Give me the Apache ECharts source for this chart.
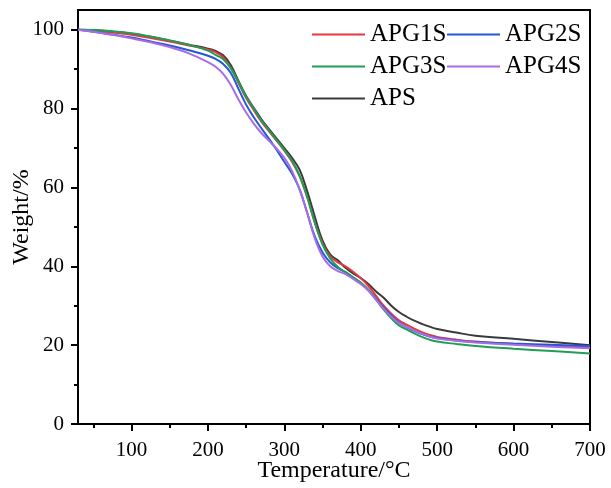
<!DOCTYPE html>
<html>
<head>
<meta charset="utf-8">
<script src="https://cdn.jsdelivr.net/npm/echarts@6/dist/echarts.min.js"></script>
<style>html,body{margin:0;padding:0;background:#fff;}#c{width:611px;height:488px;}</style>
</head>
<body>
<div id="c"></div>
<script>
var temps = [30,50,75,100,125,150,175,200,210,220,230,240,250,260,270,280,290,300,310,320,330,340,350,360,370,380,390,400,410,420,430,440,450,460,470,480,490,500,525,550,600,650,700];
var apg1s = [100,99.8,99.3,98.7,97.9,97.0,96.0,95.0,94.3,93.0,90.3,86.5,82.7,79.6,76.7,74.2,71.8,69.3,66.5,62.8,57.5,51.0,45.8,42.5,41.0,40.0,38.6,37.0,35.0,32.5,30.0,28.0,26.3,25.2,24.2,23.3,22.6,22.1,21.4,20.9,20.3,19.8,19.4];
var apg2s = [100,99.5,98.8,98.0,97.0,96.0,94.8,93.4,92.6,91.3,89.0,85.0,81.0,77.8,75.0,72.3,69.5,66.5,63.5,59.5,53.5,47.5,43.5,41.0,39.5,38.5,37.2,35.8,34.0,31.8,29.5,27.5,25.8,24.6,23.6,22.8,22.2,21.8,21.2,20.8,20.4,20.1,19.8];
var apg3s = [100,99.9,99.6,99.1,98.3,97.3,96.2,94.7,93.6,92.5,90.2,86.8,83.0,80.0,77.0,74.5,72.0,69.5,66.8,63.0,57.5,51.0,45.5,42.0,39.8,38.5,37.2,35.8,34.0,31.6,29.0,26.8,25.0,24.0,23.0,22.1,21.4,20.9,20.3,19.8,19.1,18.5,17.9];
var apg4s = [100,99.5,98.7,97.8,96.8,95.6,94.0,91.8,90.6,88.8,86.0,82.3,79.0,76.2,73.8,71.8,69.8,67.5,64.2,59.5,53.5,47.0,42.5,40.0,38.8,38.0,36.8,35.5,33.8,31.5,29.2,27.2,25.6,24.6,23.7,22.9,22.2,21.7,21.1,20.7,20.1,19.6,19.2];
var aps   = [100,99.9,99.5,99.0,98.2,97.2,96.2,95.2,94.6,93.5,91.0,87.0,83.2,80.2,77.3,74.8,72.4,70.0,67.5,64.5,59.0,52.5,46.5,43.0,41.5,39.6,38.2,37.0,35.5,33.6,32.0,30.0,28.4,27.2,26.2,25.4,24.7,24.1,23.2,22.4,21.6,20.8,20.0];

var seriesNames = ['APG1S','APG2S','APG3S','APG4S','APS'];
var seriesValues = [apg1s, apg2s, apg3s, apg4s, aps];
var seriesColors = ['#e8373e','#2257d8','#1f9e56','#a86ce6','#3a3a3a'];

var xMajor = [100,200,300,400,500,600,700];
var xMinor = [50,150,250,350,450,550,650];
var yMajor = [0,20,40,60,80,100];
var yMinor = [10,30,50,70,90];

var FONT = 'Liberation Serif';
function pairs(v){ return temps.map(function(t,i){ return [t, v[i]]; }); }

var legendPos = [[312,22],[447,22],[312,54],[447,54],[312,86]];
var legends = seriesNames.map(function(n,i){
  return {
    data:[n], left: legendPos[i][0], top: legendPos[i][1], padding:0,
    icon:'rect', itemWidth:53, itemHeight:2, itemGap:0,
    textStyle:{fontFamily:FONT, fontSize:25, color:'#000', padding:[0,0,0,0]},
    selectedMode:false
  };
});

var chart = echarts.init(document.getElementById('c'), null, {renderer:'canvas'});
chart.setOption({
  animation:false,
  backgroundColor:'#fff',
  grid:{left:78, right:21, top:10, bottom:64, containLabel:false, outerBoundsMode:'none',
        show:true, borderColor:'#000', borderWidth:2, backgroundColor:'transparent'},
  legend: legends,
  xAxis:[{
    type:'value', min:30, max:700, position:'bottom',
    name:'Temperature/°C', nameLocation:'middle', nameGap:35, nameMoveOverlap:false,
    nameTextStyle:{fontFamily:FONT, fontSize:24, color:'#000'},
    axisLine:{show:true, onZero:false, lineStyle:{color:'#000', width:2}},
    axisTick:{show:true, length:7, customValues:xMajor, lineStyle:{color:'#000', width:2}},
    axisLabel:{customValues:xMajor, fontFamily:FONT, fontSize:21, color:'#000', margin:16},
    splitLine:{show:false}
  },{
    type:'value', min:30, max:700, position:'bottom',
    axisLine:{show:false},
    axisTick:{show:true, length:4, customValues:xMinor, lineStyle:{color:'#000', width:2}},
    axisLabel:{show:false}, splitLine:{show:false}
  }],
  yAxis:[{
    type:'value', min:0, max:105, position:'left',
    name:'Weight/%', nameLocation:'middle', nameGap:44, nameRotate:90, nameMoveOverlap:false,
    nameTextStyle:{fontFamily:FONT, fontSize:24, color:'#000'},
    axisLine:{show:true, onZero:false, lineStyle:{color:'#000', width:2}},
    axisTick:{show:true, length:7, customValues:yMajor, lineStyle:{color:'#000', width:2}},
    axisLabel:{customValues:yMajor, fontFamily:FONT, fontSize:21, color:'#000', margin:14},
    splitLine:{show:false}
  },{
    type:'value', min:0, max:105, position:'left',
    axisLine:{show:false},
    axisTick:{show:true, length:4, customValues:yMinor, lineStyle:{color:'#000', width:2}},
    axisLabel:{show:false}, splitLine:{show:false}
  }],
  series: seriesNames.map(function(n,i){
    return {
      name:n, type:'line', xAxisIndex:0, yAxisIndex:0,
      data: pairs(seriesValues[i]), smooth:0.4, showSymbol:false, symbol:'none',
      lineStyle:{color:seriesColors[i], width:2}, itemStyle:{color:seriesColors[i]},
      z: 2 + (i===4 ? -1 : 0)
    };
  })
});
</script>
</body>
</html>
